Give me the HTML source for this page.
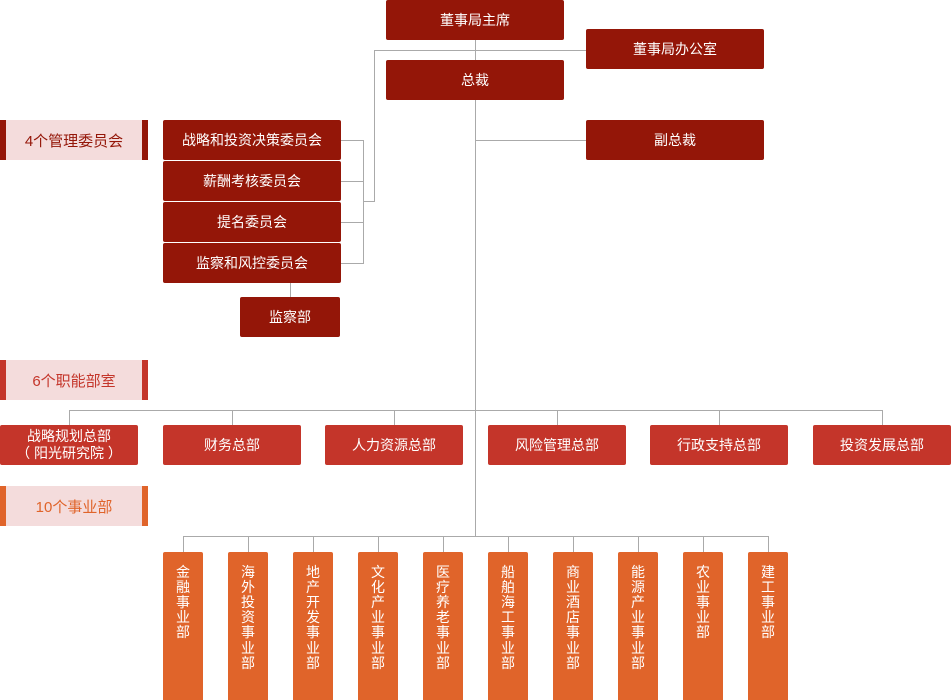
<!DOCTYPE html>
<html><head><meta charset="utf-8"><style>
body{margin:0;width:951px;height:700px;position:relative;background:#fff;font-family:"Liberation Sans","Noto Sans CJK SC",sans-serif;overflow:hidden}
.b{position:absolute;color:#fff;font-size:14px;display:flex;align-items:center;justify-content:center;text-align:center;border-radius:2px;box-sizing:border-box}
.d{background:#941608}
.r{background:#c4352a}
.o{background:#e0642a}
.v{position:absolute;background:#e0642a;color:#fff;font-size:14px;width:40px;top:552px;height:148px;text-align:center;line-height:15.2px;padding-top:12.5px;box-sizing:border-box;border-radius:2px 2px 0 0}
.h{position:absolute;background:#aaa;height:1px}
.vl{position:absolute;background:#aaa;width:1px}
.lab{position:absolute;left:0;width:148px;height:40px;background:#f4dcdc;font-size:15px;display:flex;align-items:center;justify-content:center;box-sizing:border-box}
</style></head><body>
<div class="vl" style="left:475px;top:40px;height:20px"></div>
<div class="vl" style="left:475px;top:100px;height:436px"></div>
<div class="h" style="left:374px;top:50px;width:212px"></div>
<div class="vl" style="left:374px;top:50px;height:152px"></div>
<div class="h" style="left:363px;top:201px;width:12px"></div>
<div class="vl" style="left:363px;top:140px;height:124px"></div>
<div class="h" style="left:341px;top:140px;width:22px"></div>
<div class="h" style="left:341px;top:181px;width:22px"></div>
<div class="h" style="left:341px;top:222px;width:22px"></div>
<div class="h" style="left:341px;top:263px;width:22px"></div>
<div class="vl" style="left:290px;top:283px;height:14px"></div>
<div class="h" style="left:475px;top:140px;width:111px"></div>
<div class="h" style="left:69px;top:410px;width:814px"></div>
<div class="vl" style="left:69px;top:410px;height:15px"></div>
<div class="vl" style="left:232px;top:410px;height:15px"></div>
<div class="vl" style="left:394px;top:410px;height:15px"></div>
<div class="vl" style="left:557px;top:410px;height:15px"></div>
<div class="vl" style="left:719px;top:410px;height:15px"></div>
<div class="vl" style="left:882px;top:410px;height:15px"></div>
<div class="h" style="left:183px;top:536px;width:586px"></div>
<div class="vl" style="left:183px;top:536px;height:16px"></div>
<div class="vl" style="left:248px;top:536px;height:16px"></div>
<div class="vl" style="left:313px;top:536px;height:16px"></div>
<div class="vl" style="left:378px;top:536px;height:16px"></div>
<div class="vl" style="left:443px;top:536px;height:16px"></div>
<div class="vl" style="left:508px;top:536px;height:16px"></div>
<div class="vl" style="left:573px;top:536px;height:16px"></div>
<div class="vl" style="left:638px;top:536px;height:16px"></div>
<div class="vl" style="left:703px;top:536px;height:16px"></div>
<div class="vl" style="left:768px;top:536px;height:16px"></div>
<div class="b d" style="left:386px;top:0;width:178px;height:40px">董事局主席</div>
<div class="b d" style="left:386px;top:60px;width:178px;height:40px">总裁</div>
<div class="b d" style="left:586px;top:29px;width:178px;height:40px">董事局办公室</div>
<div class="b d" style="left:586px;top:120px;width:178px;height:40px">副总裁</div>
<div class="b d" style="left:163px;top:120px;width:178px;height:40px">战略和投资决策委员会</div>
<div class="b d" style="left:163px;top:161px;width:178px;height:40px">薪酬考核委员会</div>
<div class="b d" style="left:163px;top:202px;width:178px;height:40px">提名委员会</div>
<div class="b d" style="left:163px;top:243px;width:178px;height:40px">监察和风控委员会</div>
<div class="b d" style="left:240px;top:297px;width:100px;height:40px">监察部</div>
<div class="lab" style="top:120px;color:#941608;border-left:6px solid #941608;border-right:6px solid #941608">4个管理委员会</div>
<div class="lab" style="top:360px;color:#c4352a;border-left:6px solid #c4352a;border-right:6px solid #c4352a">6个职能部室</div>
<div class="lab" style="top:486px;color:#e0642a;border-left:6px solid #e0642a;border-right:6px solid #e0642a">10个事业部</div>
<div class="b r" style="left:0;top:425px;width:138px;height:40px;line-height:17px">战略规划总部<br>（ 阳光研究院 ）</div>
<div class="b r" style="left:163px;top:425px;width:138px;height:40px">财务总部</div>
<div class="b r" style="left:325px;top:425px;width:138px;height:40px">人力资源总部</div>
<div class="b r" style="left:488px;top:425px;width:138px;height:40px">风险管理总部</div>
<div class="b r" style="left:650px;top:425px;width:138px;height:40px">行政支持总部</div>
<div class="b r" style="left:813px;top:425px;width:138px;height:40px">投资发展总部</div>
<div class="v" style="left:163px">金<br>融<br>事<br>业<br>部</div>
<div class="v" style="left:228px">海<br>外<br>投<br>资<br>事<br>业<br>部</div>
<div class="v" style="left:293px">地<br>产<br>开<br>发<br>事<br>业<br>部</div>
<div class="v" style="left:358px">文<br>化<br>产<br>业<br>事<br>业<br>部</div>
<div class="v" style="left:423px">医<br>疗<br>养<br>老<br>事<br>业<br>部</div>
<div class="v" style="left:488px">船<br>舶<br>海<br>工<br>事<br>业<br>部</div>
<div class="v" style="left:553px">商<br>业<br>酒<br>店<br>事<br>业<br>部</div>
<div class="v" style="left:618px">能<br>源<br>产<br>业<br>事<br>业<br>部</div>
<div class="v" style="left:683px">农<br>业<br>事<br>业<br>部</div>
<div class="v" style="left:748px">建<br>工<br>事<br>业<br>部</div>
</body></html>
